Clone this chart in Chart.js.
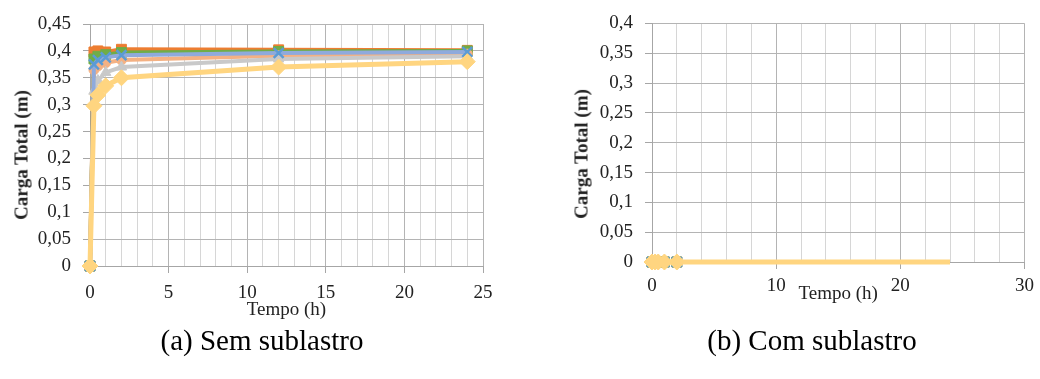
<!DOCTYPE html>
<html><head><meta charset="utf-8">
<script src="https://cdn.jsdelivr.net/npm/chart.js@4/dist/chart.umd.min.js"></script>
<style>
html,body{margin:0;padding:0;background:#fff;width:1040px;height:379px;overflow:hidden;}
canvas{position:absolute;top:0;}
.cap{position:absolute;font-family:"Liberation Serif","Times New Roman",serif;font-size:29px;color:#000;white-space:nowrap;transform:translateX(-50%);line-height:1;}
.yt{position:absolute;font-family:"Liberation Serif","Times New Roman",serif;font-size:19px;font-weight:bold;color:#222;white-space:nowrap;line-height:1;transform:translate(-50%,-50%) rotate(-90deg);}
</style></head><body>
<canvas id="a" width="520" height="325" style="left:0"></canvas>
<canvas id="b" width="480" height="325" style="left:560px"></canvas>
<div class="yt" id="ya" style="left:21px;top:155px"></div>
<div class="yt" id="yb" style="left:581px;top:154px"></div>
<div class="cap" style="left:262px;top:326px">(a) Sem sublastro</div>
<div class="cap" style="left:812px;top:326px">(b) Com sublastro</div>
<script>
// ---- data ----
const timesA = [0, 0.25, 0.5, 1, 2, 12, 24];
const yellowA = [0, 0.298, 0.318, 0.335, 0.350, 0.370, 0.380];
const grayA   = [0, 0.325, 0.345, 0.360, 0.370, 0.385, 0.390];
const salmonA = [0, 0.365, 0.372, 0.378, 0.383, 0.391, 0.394];
const blueA   = [0, 0.375, 0.383, 0.388, 0.392, 0.396, 0.398];
const greenA  = [0, 0.385, 0.390, 0.393, 0.397, 0.399, 0.400];
const orangeA = [0, 0.398, 0.400, 0.398, 0.403, 0.402, 0.401];

const timesB = [0, 0.25, 0.5, 1, 2, 24];
const yellowB = [0, 0, 0, 0, 0, 0];
const grayB   = [0, 0, 0, 0, 0, 0];
const salmonB = [0, 0, 0, 0, 0, 0];
const blueB   = [0, 0, 0, 0, 0, 0];
const greenB  = [0, 0, 0, 0, 0, 0];
const orangeB = [0, 0, 0, 0, 0, 0];

const yTicksA = [0, 0.05, 0.1, 0.15, 0.2, 0.25, 0.3, 0.35, 0.4, 0.45];
const yTicksB = [0, 0.05, 0.1, 0.15, 0.2, 0.25, 0.3, 0.35, 0.4];
const xTitle = "Tempo (h)";
const yTitle = "Carga Total (m)";

document.getElementById('ya').textContent = yTitle;
document.getElementById('yb').textContent = yTitle;

// ---- styles ----
const FONT = '"Liberation Serif","Times New Roman",serif';
const MAJOR = '#b4b4b4', MINOR = '#d6d6d6', AXIS = '#a6a6a6';

function pts(t, v){ return t.map((x,i)=>({x:x, y:v[i]})); }

function makeSets(t, y, g, s, b, gr, o, hideAfter){
  const rad = (r)=> hideAfter==null ? r : (ctx)=> (ctx.raw && ctx.raw.x>hideAfter) ? 0 : r;
  return [
    {data:pts(t,y), borderColor:'#FFD580', backgroundColor:'#FFD580', borderWidth:5, pointStyle:'rectRot', pointRadius:rad(8)},
    {data:pts(t,b), borderColor:'#8FAADC', backgroundColor:'#5B9BD5', pointBorderColor:'#5B9BD5', borderWidth:4, pointStyle:'crossRot', pointRadius:rad(7), pointBorderWidth:2.5},
    {data:pts(t,g), borderColor:'#C9C9C9', backgroundColor:'#C9C9C9', borderWidth:4, pointStyle:'triangle', pointRadius:rad(6)},
    {data:pts(t,s), borderColor:'#F4B183', backgroundColor:'#F4B183', borderWidth:4, pointStyle:'circle', pointRadius:rad(5)},
    {data:pts(t,gr), borderColor:'#70AD47', backgroundColor:'#70AD47', borderWidth:4, pointStyle:'rect', pointRadius:rad(7)},
    {data:pts(t,o), borderColor:'#ED7D31', backgroundColor:'#ED7D31', borderWidth:4, pointStyle:'rect', pointRadius:rad(7)}
  ].map(d=>Object.assign({fill:false, tension:0, clip:false, pointBorderWidth:d.pointBorderWidth||1}, d));
}

function fmt(v){ return (Math.round(v*100)/100).toString().replace('.', ','); }

function makeChart(id, sets, xMax, xStep, xMajor, yTicks, yW, xH, pad, tickPad, titlePadB){
  const yMax = yTicks[yTicks.length-1];
  return new Chart(document.getElementById(id), {
    type:'line',
    data:{datasets:sets},
    options:{
      responsive:false, animation:false,
      layout:{padding:pad},
      plugins:{legend:{display:false}, tooltip:{enabled:false}},
      scales:{
        x:{type:'linear', min:0, max:xMax,
          afterFit:(s)=>{s.height = xH;},
          ticks:{stepSize:xStep, autoSkip:false, maxRotation:0, padding:tickPad, color:'#222',
            font:{family:FONT, size:19},
            callback:(v)=> (Math.abs(v % xMajor) < 1e-9 ? String(v) : '')},
          grid:{color:(c)=> (c.tick && Math.abs(c.tick.value % xMajor) < 1e-9 ? MAJOR : MINOR),
            tickColor:(c)=> (c.tick && Math.abs(c.tick.value % xMajor) < 1e-9 ? AXIS : 'rgba(0,0,0,0)'),
            tickLength:7, lineWidth:1},
          border:{color:AXIS, width:1},
          title:{display:true, text:xTitle, color:'#222', font:{family:FONT, size:19}, padding:{top:0,bottom:titlePadB}}
        },
        y:{type:'linear', min:0, max:yMax,
          afterFit:(s)=>{s.width = yW;},
          afterBuildTicks:(s)=>{ s.ticks = yTicks.map(v=>({value:v})); },
          ticks:{color:'#222', padding:12, font:{family:FONT, size:19}, callback:(v)=>fmt(v)},
          grid:{color:MAJOR, tickColor:AXIS, tickLength:7, lineWidth:1},
          border:{color:AXIS, width:1},
          title:{display:false}
        }
      }
    }
  });
}

makeChart('a', makeSets(timesA, yellowA, grayA, salmonA, blueA, greenA, orangeA, null),
  25, 1, 5, yTicksA, 90, 59, {top:24, right:37, left:0, bottom:0}, 9, 4);
makeChart('b', makeSets(timesB, yellowB, grayB, salmonB, blueB, greenB, orangeB, 2),
  30, 2, 10, yTicksB, 92, 63, {top:23, right:13, left:0, bottom:0}, 6, 20);
</script>
</body></html>
